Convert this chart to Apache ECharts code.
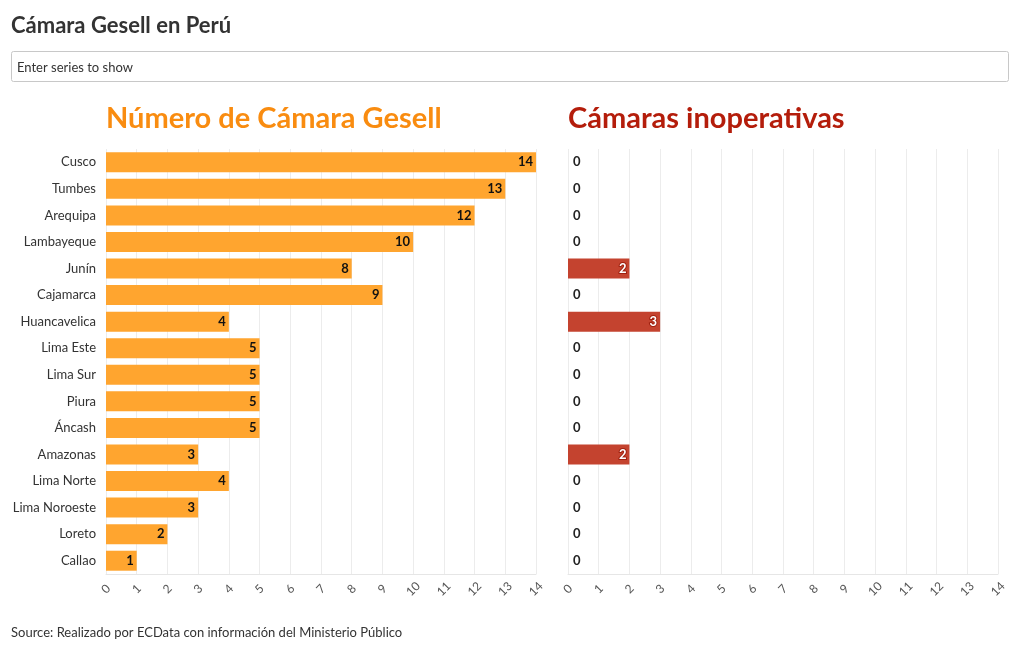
<!DOCTYPE html>
<html>
<head>
<meta charset="utf-8">
<script src="https://cdn.jsdelivr.net/npm/echarts@6/dist/echarts.min.js"></script>
<style>
html,body{margin:0;padding:0;background:#fff;}
#chart{width:1020px;height:650px;}
</style>
</head>
<body>
<div id="chart"></div>
<script>
const categories = ['Cusco','Tumbes','Arequipa','Lambayeque','Junín','Cajamarca','Huancavelica','Lima Este','Lima Sur','Piura','Áncash','Amazonas','Lima Norte','Lima Noroeste','Loreto','Callao'];
const camaras = [14,13,12,10,8,9,4,5,5,5,5,3,4,3,2,1];
const inoperativas = [0,0,0,0,2,0,3,0,0,0,0,2,0,0,0,0];
const tickValues = [0,1,2,3,4,5,6,7,8,9,10,11,12,13,14];

const FONT = 'Lato';
const ORANGE = '#ffa52f';
const RED = '#c4432f';

const chart = echarts.init(document.getElementById('chart'), null, {renderer:'canvas'});

function xAxisCfg(gridIndex){
  return {
    type:'value', gridIndex, min:tickValues[0], max:tickValues[tickValues.length-1], interval:1,
    axisLine:{show:true, lineStyle:{color:'#e6e6e6'}},
    axisTick:{show:false},
    splitLine:{show:true, lineStyle:{color:'#ececec', width:1}},
    axisLabel:{rotate:45, align:'center', verticalAlign:'middle', color:'#555', fontFamily:FONT, fontSize:12, margin:15}
  };
}

const option = {
  animation:false,
  textStyle:{fontFamily:FONT},
  graphic:[
    {type:'text', left:11, top:15, style:{text:'Cámara Gesell en Perú', font:'bold 22px '+FONT, fill:'#333'}},
    {type:'rect', shape:{x:11.5, y:51.5, width:997, height:30, r:2}, style:{fill:'#fff', stroke:'#c8c8c8', lineWidth:1}},
    {type:'text', left:17, top:61, style:{text:'Enter series to show', font:'13px '+FONT, fill:'#333'}},
    {type:'text', left:106, top:104, style:{text:'Número de Cámara Gesell', font:'bold 29px '+FONT, fill:'#f98c10'}},
    {type:'text', left:568, top:104, style:{text:'Cámaras inoperativas', font:'bold 29px '+FONT, fill:'#b41d0b'}},
    {type:'text', left:11, top:626, style:{text:'Source: Realizado por ECData con información del Ministerio Público', font:'13px '+FONT, fill:'#333'}}
  ],
  grid:[
    {left:106, width:430, top:149, height:425},
    {left:568, width:430, top:149, height:425}
  ],
  xAxis:[xAxisCfg(0), xAxisCfg(1)],
  yAxis:[
    {type:'category', gridIndex:0, data:categories, inverse:true,
     axisLine:{show:false}, axisTick:{show:false},
     axisLabel:{color:'#333', fontFamily:FONT, fontSize:13, margin:10}},
    {type:'category', gridIndex:1, data:categories, inverse:true,
     axisLine:{show:false}, axisTick:{show:false}, axisLabel:{show:false}}
  ],
  series:[
    {type:'bar', xAxisIndex:0, yAxisIndex:0, barWidth:20,
     itemStyle:{color:ORANGE},
     label:{show:true, position:'insideRight', distance:3, color:'#111', fontWeight:'bold', fontSize:13, fontFamily:FONT,
            textBorderColor:ORANGE, textBorderWidth:2},
     data:camaras},
    {type:'bar', xAxisIndex:1, yAxisIndex:1, barWidth:20,
     itemStyle:{color:RED},
     data:inoperativas.map(v => v === 0 ? {
        value:v,
        label:{show:true, position:'right', distance:5, color:'#222', fontWeight:'bold', fontSize:13, fontFamily:FONT}
      } : {
        value:v,
        label:{show:true, position:'insideRight', distance:3, color:'#fff', fontWeight:'bold', fontSize:13, fontFamily:FONT,
               textBorderColor:'#a0200f', textBorderWidth:2}
      })}
  ]
};
chart.setOption(option);
</script>
</body>
</html>
